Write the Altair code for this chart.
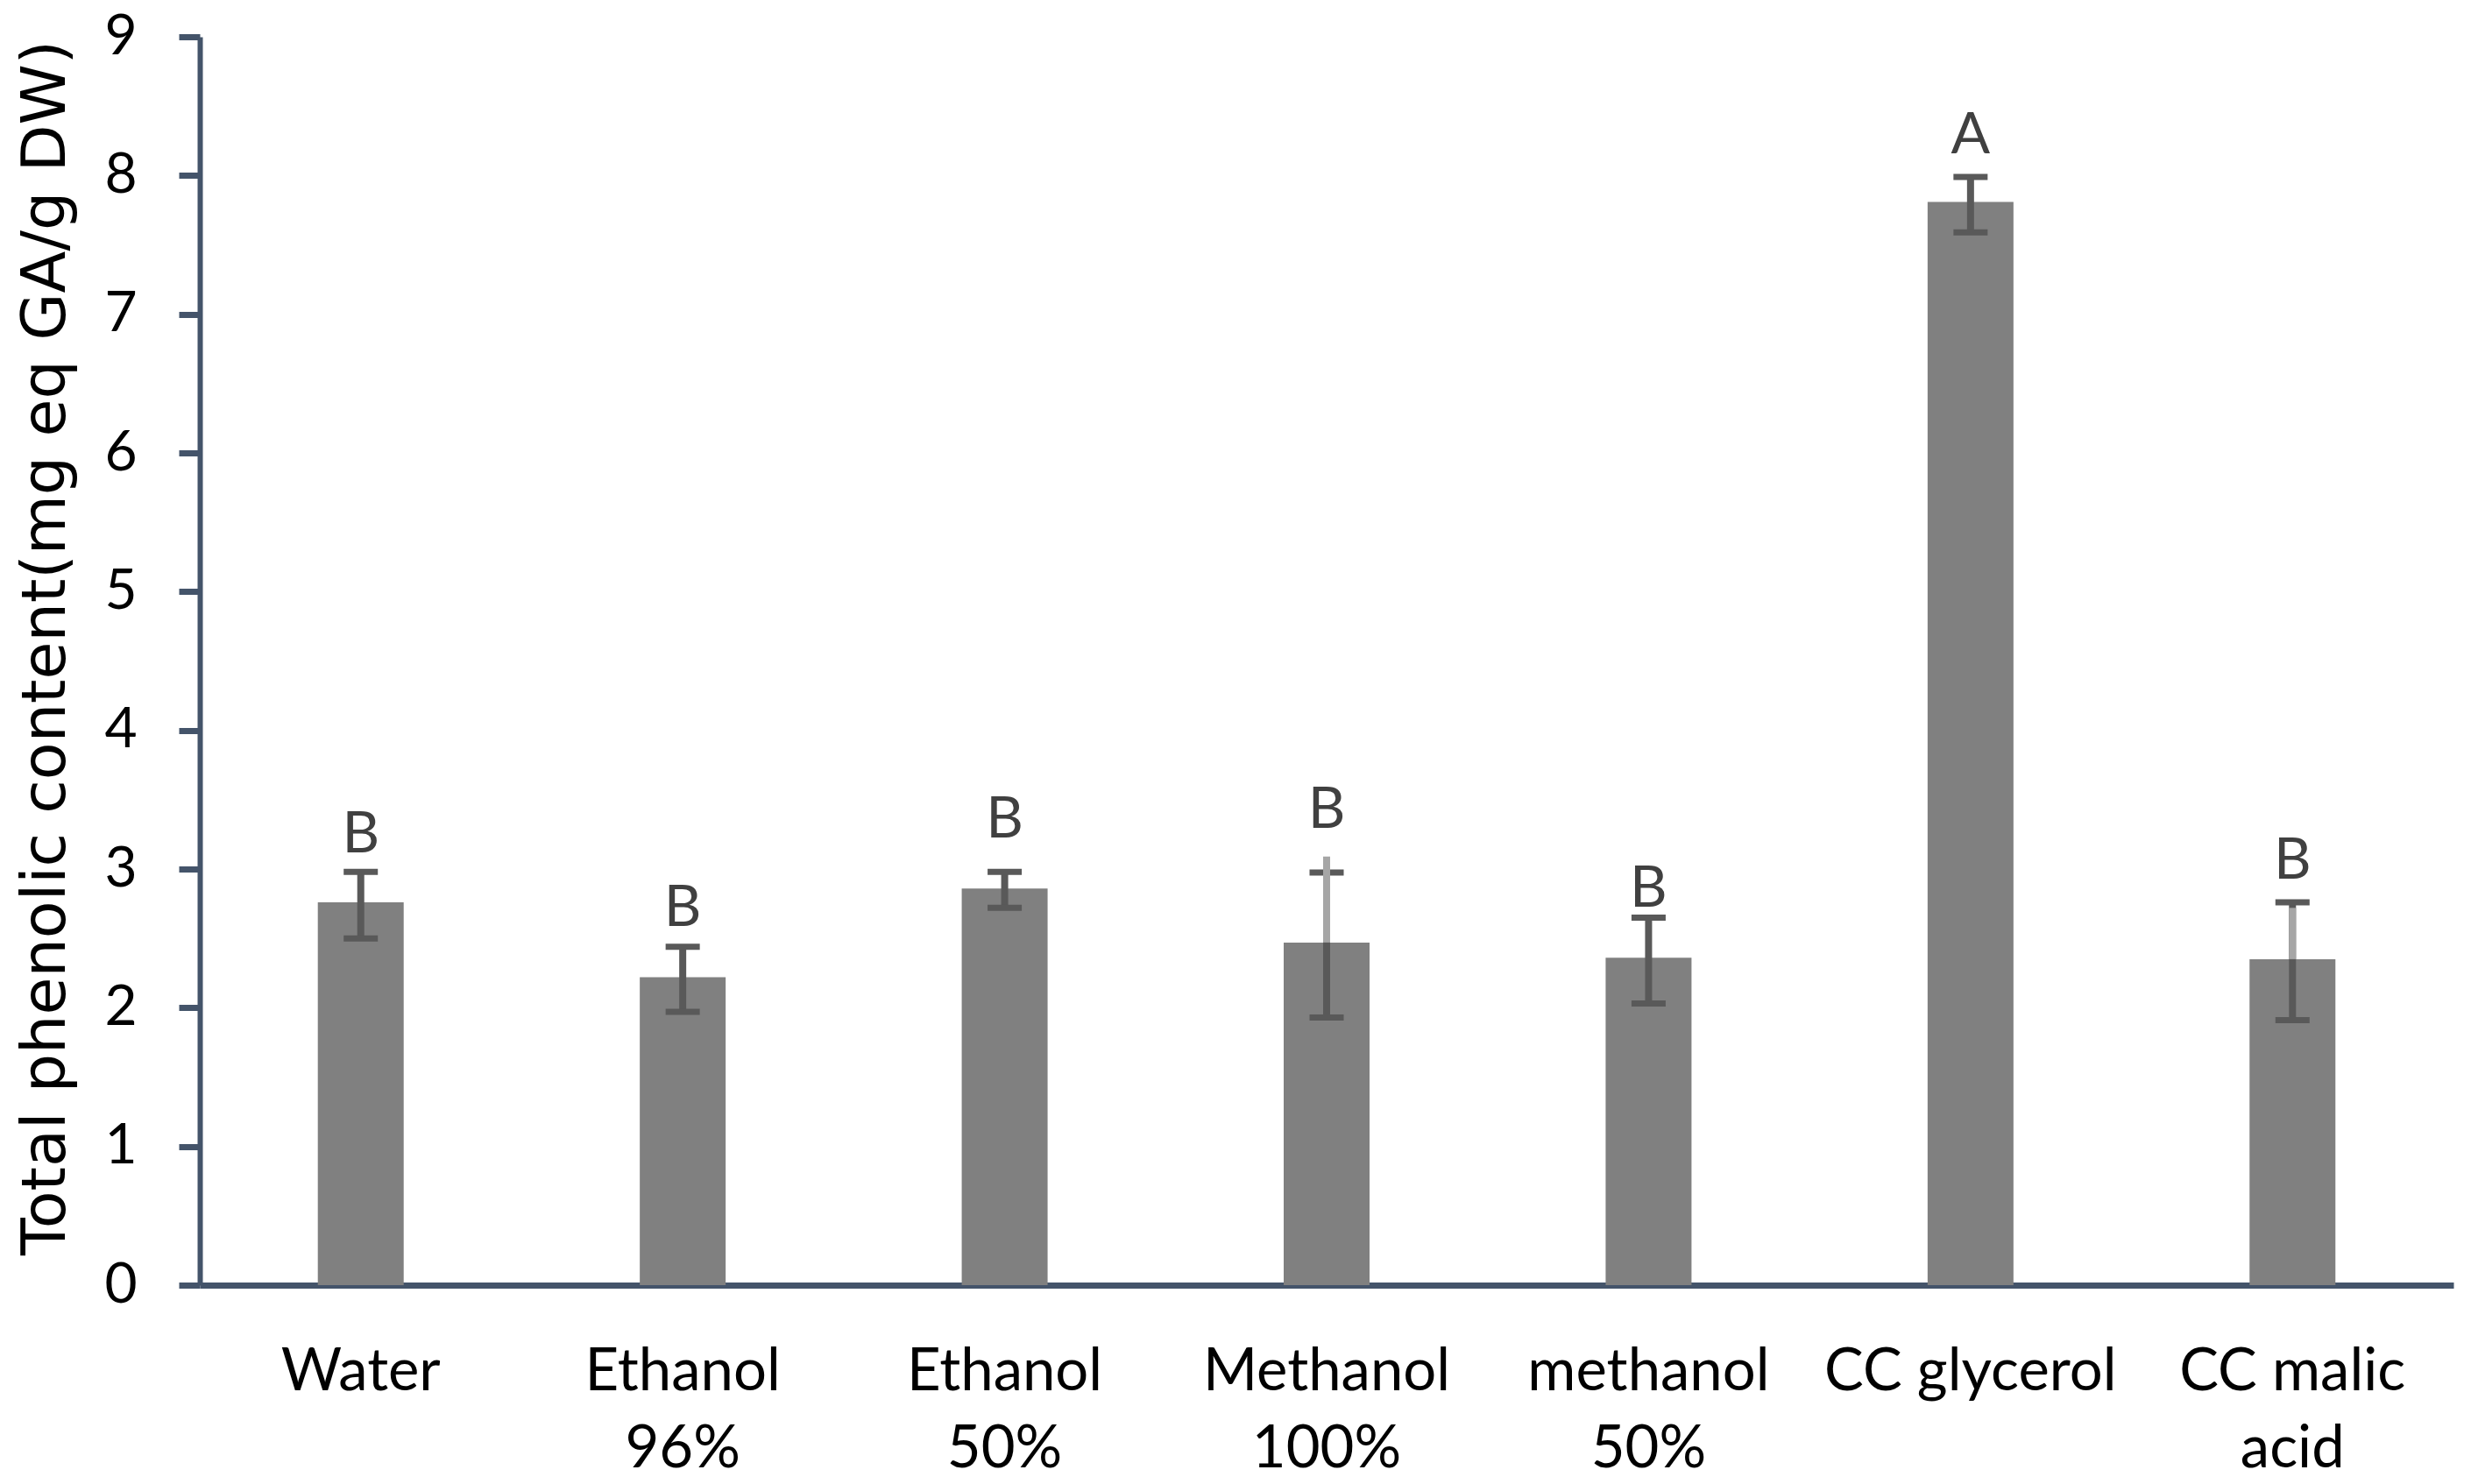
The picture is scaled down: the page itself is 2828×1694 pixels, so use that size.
import altair as alt
import pandas as pd

categories = ["Water", "Ethanol 96%", "Ethanol 50%", "Methanol 100%",
              "methanol 50%", "CC glycerol", "CC malic acid"]
label_lines = [["Water"], ["Ethanol", "96%"], ["Ethanol", "50%"], ["Methanol", "100%"],
               ["methanol", "50%"], ["CC glycerol"], ["CC malic", "acid"]]
means = [2.76, 2.22, 2.86, 2.47, 2.36, 7.81, 2.35]
err_lo = [2.50, 1.97, 2.72, 1.93, 2.03, 7.59, 1.91]
err_hi = [2.98, 2.44, 2.98, 2.975, 2.65, 7.99, 2.76]
light_lo = [None, None, None, 2.47, None, None, 2.35]
light_hi = [None, None, None, 3.09, None, None, 2.72]
letters = ["B", "B", "B", "B", "B", "A", "B"]
letter_y = [3.12, 2.59, 3.23, 3.30, 2.73, 8.16, 2.93]
y_ticks = [0, 1, 2, 3, 4, 5, 6, 7, 8, 9]

df = pd.DataFrame({
    "cat": categories, "mean": means, "lo": err_lo, "hi": err_hi,
    "llo": light_lo, "lhi": light_hi, "letter": letters, "ly": letter_y,
})

# label expression building multi-line labels
expr = "[datum.label]"
for c, lines in zip(categories, label_lines):
    arr = "[" + ",".join("'" + s + "'" for s in lines) + "]"
    expr = f"datum.label == '{c}' ? {arr} : ({expr})"

AXIS_COLOR = "#44546a"
ERR = "#595959"

x = alt.X("cat:N", sort=categories, title=None,
          scale=alt.Scale(paddingInner=0, paddingOuter=0),
          axis=alt.Axis(labelAngle=0, ticks=False, tickSize=0, labelPadding=119,
                        labelBaseline="alphabetic", labelLineHeight=88,
                        labelFont="Lato", labelFontSize=67, labelColor="#000000",
                        domainColor=AXIS_COLOR, domainWidth=7, labelExpr=expr,
                        labelLimit=0))
yscale = alt.Scale(domain=[0, 9], nice=False)
yaxis = alt.Axis(values=y_ticks, format="d", grid=False, tickSize=24, tickWidth=7,
                 tickColor=AXIS_COLOR, domainColor=AXIS_COLOR, domainWidth=6,
                 labelPadding=48, labelFont="Lato", labelFontSize=64,
                 labelColor="#000000",
                 title="Total phenolic content(mg eq GA/g DW)",
                 titleFont="DejaVu Sans", titleFontSize=70, titleFontWeight="normal",
                 titleColor="#000000", titleX=-155, titleY=697,
                 titleBaseline="alphabetic", titleAlign="center", titleAngle=270)

base = alt.Chart(df)

bars = base.mark_bar(size=98, color="#808080").encode(
    x=x, y=alt.Y("mean:Q", scale=yscale, axis=yaxis))

stems = base.mark_rule(color=ERR, strokeWidth=8).encode(
    x=alt.X("cat:N", sort=categories), y="lo:Q", y2="hi:Q")

cap_lo = base.mark_tick(color=ERR, size=39, thickness=7, opacity=1).encode(
    x=alt.X("cat:N", sort=categories), y="lo:Q")
cap_hi = base.mark_tick(color=ERR, size=39, thickness=7, opacity=1).encode(
    x=alt.X("cat:N", sort=categories), y="hi:Q")

light = base.transform_filter("isValid(datum.llo)").mark_rule(
    color="#a6a6a6", strokeWidth=8).encode(
    x=alt.X("cat:N", sort=categories), y="llo:Q", y2="lhi:Q")

text = base.mark_text(font="Lato", fontSize=66, color="#404040",
                      baseline="alphabetic", align="center").encode(
    x=alt.X("cat:N", sort=categories), y="ly:Q", text="letter:N")

chart = alt.layer(bars, stems, cap_lo, cap_hi, light, text).properties(
    width=2572, height=1425,
    autosize=alt.AutoSizeParams(type="none"),
    padding={"left": 220, "top": 34, "right": 20, "bottom": 226},
    background="white",
).configure_view(stroke=None)

chart.save("out.html", embed_options={"renderer": "svg", "actions": False})
